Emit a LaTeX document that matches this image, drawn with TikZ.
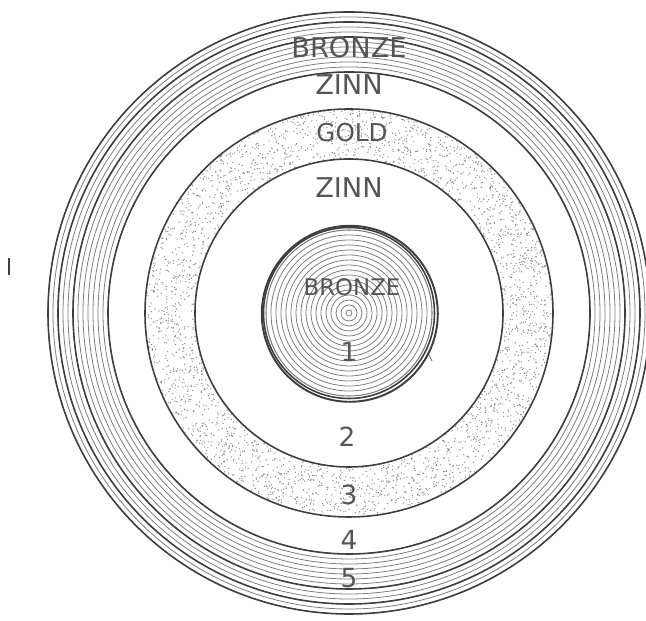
\documentclass[tikz,border=0pt]{standalone}
\usepackage{fontspec}
\setmainfont{DejaVu Sans}
\usetikzlibrary{calc}
\definecolor{inkthin}{HTML}{7C7C7C}
\definecolor{inkdark}{HTML}{3E3E3E}
\definecolor{stipple}{HTML}{8A8A8A}
\definecolor{lettering}{HTML}{555555}

\begin{document}
\begin{tikzpicture}[
    x=0.02cm, y=0.02cm,
    lbl/.style={font=\fontsize{15.5}{16}\selectfont, text=lettering, inner sep=0pt},
    numlbl/.style={font=\fontsize{15}{16}\selectfont, text=lettering, inner sep=0pt},
    thinring/.style={draw=inkthin, line width=0.45pt},
    darkring/.style={draw=inkdark, line width=0.9pt},
]

\def\cx{349}
\def\cy{308}

\useasboundingbox (0,0) rectangle (646,621);
\clip (0,0) rectangle (646,621);

\coordinate (c) at (\cx,\cy);

% ── ring 5: outer bronze band ──
\foreach \i in {0,...,12} {
    \pgfmathsetmacro\r{241+5*\i}
    \draw[thinring] (c) circle (\r);
}
\foreach \r in {241,276,291,301}
    \draw[darkring] (c) circle (\r);

% ── ring 3: gold, stippled ──
\pgfmathsetseed{42}
\foreach \i in {1,...,2800} {
    \pgfmathsetmacro\a{360*rnd}
    \pgfmathsetmacro\r{10*sqrt(15.5^2+rnd*(20.3^2-15.5^2))}
    \fill[stipple] (c) ++(\a:\r) circle (0.7);
}
\draw[darkring] (c) circle (154);
\draw[darkring] (c) circle (204);

% ── core 1: inner bronze ──
\foreach \r in {3,8,...,78}
    \draw[thinring] (c) circle (\r);
\draw[thinring, line width=0.6pt] (c) circle (83);
\draw[darkring] (c) circle (85.5);
\draw[darkring, line width=1.1pt] ($(c)+(0.8,-0.8)$) circle (88);

% ── labels ──
\node[lbl] (bronzeout) at (\cx,573) {BRONZE};
\node[lbl] (zinnout) at (\cx,536) {ZINN};
\node[lbl, font=\fontsize{14}{15}\selectfont] (gold) at (\cx+3,488) {GOLD};
\node[lbl] (zinnin) at (\cx,433) {ZINN};
\node[lbl, font=\fontsize{13}{14}\selectfont] (bronzein) at (\cx+3,334) {BRONZE};
\node[numlbl] (n1) at (\cx,269) {1};
\node[numlbl] (n2) at (\cx-2,184) {2};
\node[numlbl] (n3) at (\cx,126) {3};
\node[numlbl] (n4) at (\cx,81) {4};
\node[numlbl] (n5) at (\cx,43) {5};

% ── stray marks of the print ──
\draw[inkdark, line width=1.6pt] (9,363) -- (9,346);
\draw[inkthin, line width=0.6pt] (429,266) -- (432,260);

\end{tikzpicture}
\end{document}
